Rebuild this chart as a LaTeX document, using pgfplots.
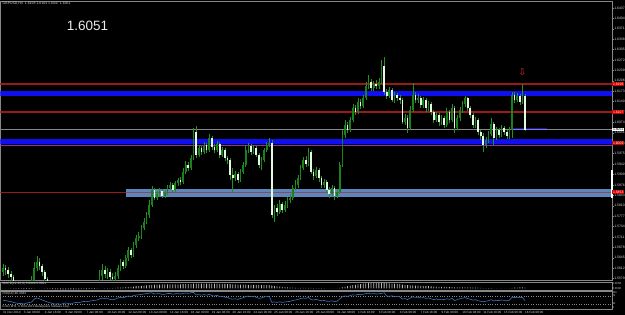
\documentclass[border=0pt]{standalone}
\usepackage{pgfplots}
\pgfplotsset{compat=1.18}
\usepackage{pgfplotstable}
\usepackage{fontspec}
\setmainfont{Liberation Sans}
\newfontfamily\arrowfont{DejaVu Sans}
\definecolor{bull}{RGB}{25,130,25}
\definecolor{wick}{RGB}{35,145,35}
\definecolor{bear}{RGB}{225,250,225}
\definecolor{lvred}{RGB}{155,25,25}
\definecolor{lvblue}{RGB}{15,15,240}
\definecolor{lvpurple}{RGB}{140,40,210}
\definecolor{lband}{RGB}{105,145,200}
\definecolor{rsiblue}{RGB}{60,115,190}
\definecolor{frm}{RGB}{135,135,135}
\definecolor{lbl}{RGB}{215,215,215}
\definecolor{sigred}{RGB}{225,40,40}
\newcommand{\fs}[1]{\fontsize{#1}{#1}\selectfont}

\pgfplotstableread{
i o h l c m r
0 1.5600 1.5625 1.5587 1.5612 0.0002 48
1 1.5612 1.5622 1.5590 1.5606 0.0001 47
2 1.5606 1.5616 1.5581 1.5593 0.0000 44
3 1.5593 1.5603 1.5571 1.5584 -0.0001 42
4 1.5584 1.5590 1.5549 1.5562 -0.0002 38
5 1.5562 1.5568 1.5530 1.5543 -0.0003 35
6 1.5543 1.5549 1.5511 1.5527 -0.0004 32
7 1.5527 1.5546 1.5517 1.5536 -0.0004 33
8 1.5536 1.5549 1.5505 1.5524 -0.0005 30
9 1.5524 1.5555 1.5514 1.5543 -0.0004 34
10 1.5543 1.5565 1.5533 1.5555 -0.0004 37
11 1.5555 1.5587 1.5546 1.5574 -0.0003 40
12 1.5574 1.5631 1.5565 1.5612 -0.0001 55
13 1.5612 1.5650 1.5603 1.5631 0.0001 60
14 1.5631 1.5644 1.5606 1.5619 0.0001 56
15 1.5619 1.5625 1.5587 1.5600 0.0000 50
16 1.5600 1.5606 1.5565 1.5578 -0.0001 45
17 1.5578 1.5584 1.5543 1.5555 -0.0002 40
18 1.5555 1.5562 1.5524 1.5536 -0.0004 36
19 1.5536 1.5543 1.5505 1.5517 -0.0005 33
20 1.5517 1.5524 1.5479 1.5495 -0.0007 29
21 1.5495 1.5521 1.5486 1.5511 -0.0008 32
22 1.5511 1.5517 1.5482 1.5498 -0.0009 28
23 1.5498 1.5505 1.5467 1.5479 -0.0010 32
24 1.5479 1.5501 1.5470 1.5492 -0.0010 35
25 1.5492 1.5521 1.5482 1.5511 -0.0009 33
26 1.5511 1.5517 1.5489 1.5501 -0.0009 30
27 1.5501 1.5511 1.5473 1.5486 -0.0008 35
28 1.5486 1.5508 1.5476 1.5498 -0.0008 38
29 1.5498 1.5524 1.5489 1.5517 -0.0007 36
30 1.5517 1.5527 1.5495 1.5508 -0.0006 40
31 1.5508 1.5533 1.5498 1.5524 -0.0006 43
32 1.5524 1.5543 1.5511 1.5536 -0.0005 41
33 1.5536 1.5546 1.5517 1.5527 -0.0004 44
34 1.5527 1.5552 1.5517 1.5543 -0.0004 46
35 1.5543 1.5559 1.5533 1.5552 -0.0003 48
36 1.5552 1.5571 1.5543 1.5562 -0.0002 50
37 1.5562 1.5606 1.5549 1.5587 0.0000 55
38 1.5587 1.5625 1.5574 1.5606 0.0002 60
39 1.5606 1.5619 1.5581 1.5593 0.0003 56
40 1.5593 1.5612 1.5578 1.5600 0.0004 57
41 1.5600 1.5609 1.5574 1.5584 0.0004 53
42 1.5584 1.5597 1.5565 1.5578 0.0004 51
43 1.5578 1.5600 1.5568 1.5587 0.0005 54
44 1.5587 1.5622 1.5578 1.5612 0.0007 60
45 1.5612 1.5641 1.5603 1.5631 0.0009 64
46 1.5631 1.5638 1.5609 1.5619 0.0010 61
47 1.5619 1.5654 1.5612 1.5644 0.0012 66
48 1.5644 1.5679 1.5635 1.5670 0.0015 70
49 1.5670 1.5676 1.5644 1.5654 0.0016 67
50 1.5654 1.5695 1.5647 1.5685 0.0018 72
51 1.5685 1.5717 1.5676 1.5708 0.0021 75
52 1.5708 1.5727 1.5698 1.5714 0.0023 76
53 1.5714 1.5749 1.5704 1.5739 0.0025 78
54 1.5739 1.5771 1.5733 1.5758 0.0027 80
55 1.5758 1.5790 1.5752 1.5780 0.0029 82
56 1.5780 1.5828 1.5771 1.5812 0.0031 84
57 1.5812 1.5872 1.5806 1.5860 0.0034 86
58 1.5860 1.5866 1.5828 1.5834 0.0035 80
59 1.5834 1.5857 1.5828 1.5847 0.0036 81
60 1.5847 1.5866 1.5838 1.5857 0.0036 82
61 1.5857 1.5863 1.5834 1.5841 0.0037 78
62 1.5841 1.5860 1.5834 1.5850 0.0037 79
63 1.5850 1.5876 1.5844 1.5866 0.0038 82
64 1.5866 1.5885 1.5860 1.5876 0.0038 83
65 1.5876 1.5882 1.5853 1.5860 0.0038 79
66 1.5860 1.5888 1.5853 1.5882 0.0038 81
67 1.5882 1.5898 1.5872 1.5891 0.0039 82
68 1.5891 1.5901 1.5876 1.5885 0.0039 80
69 1.5885 1.5929 1.5879 1.5917 0.0040 83
70 1.5917 1.5952 1.5910 1.5939 0.0041 85
71 1.5939 1.5948 1.5920 1.5929 0.0041 83
72 1.5929 1.5971 1.5923 1.5961 0.0042 86
73 1.5961 1.6056 1.5955 1.6044 0.0045 88
74 1.6044 1.6063 1.5961 1.5971 0.0046 75
75 1.5971 1.6002 1.5964 1.5993 0.0046 77
76 1.5993 1.5999 1.5971 1.5980 0.0046 74
77 1.5980 1.6012 1.5974 1.6002 0.0046 77
78 1.6002 1.6009 1.5977 1.5987 0.0045 74
79 1.5987 1.6037 1.5980 1.6025 0.0045 79
80 1.6025 1.6031 1.5987 1.5996 0.0045 72
81 1.5996 1.6006 1.5977 1.5987 0.0044 70
82 1.5987 1.6015 1.5980 1.6006 0.0044 74
83 1.6006 1.6012 1.5961 1.5971 0.0043 66
84 1.5971 1.5996 1.5964 1.5987 0.0043 68
85 1.5987 1.5993 1.5952 1.5961 0.0042 64
86 1.5961 1.5967 1.5942 1.5955 0.0041 63
87 1.5955 1.5961 1.5891 1.5907 0.0040 56
88 1.5907 1.5929 1.5853 1.5898 0.0038 54
89 1.5898 1.5920 1.5888 1.5910 0.0037 56
90 1.5910 1.5917 1.5882 1.5891 0.0036 53
91 1.5891 1.5926 1.5885 1.5917 0.0035 58
92 1.5917 1.5948 1.5910 1.5939 0.0035 61
93 1.5939 1.6002 1.5933 1.5987 0.0035 68
94 1.5987 1.6009 1.5977 1.5999 0.0034 69
95 1.5999 1.6006 1.5971 1.5980 0.0034 66
96 1.5980 1.6002 1.5974 1.5993 0.0034 68
97 1.5993 1.5999 1.5964 1.5971 0.0033 64
98 1.5971 1.5977 1.5929 1.5939 0.0033 58
99 1.5939 1.5964 1.5923 1.5955 0.0032 60
100 1.5955 1.5993 1.5948 1.5987 0.0032 65
101 1.5987 1.6012 1.5980 1.6002 0.0032 67
102 1.6002 1.6025 1.5996 1.6009 0.0032 68
103 1.6009 1.6018 1.5771 1.5780 0.0027 38
104 1.5780 1.5812 1.5758 1.5803 0.0023 40
105 1.5803 1.5815 1.5777 1.5790 0.0020 38
106 1.5790 1.5828 1.5784 1.5815 0.0017 41
107 1.5815 1.5822 1.5787 1.5796 0.0014 38
108 1.5796 1.5825 1.5790 1.5812 0.0012 40
109 1.5812 1.5838 1.5803 1.5828 0.0010 42
110 1.5828 1.5847 1.5818 1.5834 0.0008 43
111 1.5834 1.5876 1.5828 1.5866 0.0007 48
112 1.5866 1.5891 1.5860 1.5876 0.0006 50
113 1.5876 1.5907 1.5866 1.5898 0.0005 53
114 1.5898 1.5939 1.5891 1.5929 0.0005 57
115 1.5929 1.5964 1.5923 1.5955 0.0005 60
116 1.5955 1.5967 1.5933 1.5942 0.0005 58
117 1.5942 1.5993 1.5936 1.5980 0.0005 63
118 1.5980 1.5987 1.5910 1.5917 0.0005 52
119 1.5917 1.5926 1.5891 1.5904 0.0004 50
120 1.5904 1.5933 1.5898 1.5923 0.0004 53
121 1.5923 1.5929 1.5885 1.5898 0.0004 49
122 1.5898 1.5904 1.5866 1.5876 0.0003 46
123 1.5876 1.5895 1.5866 1.5885 0.0003 48
124 1.5885 1.5891 1.5850 1.5860 0.0002 44
125 1.5860 1.5869 1.5834 1.5847 0.0002 43
126 1.5847 1.5876 1.5841 1.5866 0.0002 46
127 1.5866 1.5872 1.5828 1.5841 0.0002 42
128 1.5841 1.5863 1.5834 1.5853 0.0002 44
129 1.5853 1.5948 1.5847 1.5939 0.0005 56
130 1.5939 1.6050 1.5933 1.6034 0.0010 66
131 1.6034 1.6082 1.6025 1.6066 0.0016 70
132 1.6066 1.6075 1.6040 1.6050 0.0021 68
133 1.6050 1.6091 1.6044 1.6082 0.0026 72
134 1.6082 1.6132 1.6075 1.6120 0.0030 76
135 1.6120 1.6129 1.6097 1.6107 0.0034 74
136 1.6107 1.6151 1.6101 1.6139 0.0038 78
137 1.6139 1.6148 1.6116 1.6126 0.0041 76
138 1.6126 1.6161 1.6120 1.6151 0.0044 79
139 1.6151 1.6202 1.6145 1.6189 0.0047 82
140 1.6189 1.6224 1.6180 1.6202 0.0049 84
141 1.6202 1.6212 1.6174 1.6183 0.0050 80
142 1.6183 1.6205 1.6174 1.6196 0.0051 82
143 1.6196 1.6208 1.6180 1.6189 0.0051 80
144 1.6189 1.6215 1.6180 1.6202 0.0052 81
145 1.6202 1.6272 1.6196 1.6253 0.0052 83
146 1.6253 1.6281 1.6161 1.6170 0.0053 86
147 1.6170 1.6180 1.6148 1.6158 0.0050 70
148 1.6158 1.6186 1.6151 1.6177 0.0048 68
149 1.6177 1.6183 1.6139 1.6145 0.0046 71
150 1.6145 1.6170 1.6135 1.6161 0.0044 66
151 1.6161 1.6167 1.6142 1.6151 0.0042 68
152 1.6151 1.6161 1.6132 1.6145 0.0040 66
153 1.6145 1.6151 1.6069 1.6075 0.0036 55
154 1.6075 1.6101 1.6066 1.6088 0.0033 57
155 1.6088 1.6097 1.6040 1.6056 0.0030 52
156 1.6056 1.6126 1.6050 1.6113 0.0029 60
157 1.6113 1.6199 1.6107 1.6161 0.0028 66
158 1.6161 1.6170 1.6135 1.6145 0.0027 63
159 1.6145 1.6164 1.6135 1.6151 0.0026 64
160 1.6151 1.6158 1.6120 1.6129 0.0024 60
161 1.6129 1.6155 1.6120 1.6145 0.0023 62
162 1.6145 1.6151 1.6107 1.6120 0.0022 58
163 1.6120 1.6142 1.6110 1.6132 0.0021 60
164 1.6132 1.6139 1.6097 1.6107 0.0019 56
165 1.6107 1.6113 1.6072 1.6082 0.0018 52
166 1.6082 1.6107 1.6075 1.6097 0.0017 55
167 1.6097 1.6104 1.6063 1.6075 0.0016 51
168 1.6075 1.6097 1.6066 1.6088 0.0015 54
169 1.6088 1.6094 1.6056 1.6066 0.0014 52
170 1.6066 1.6120 1.6059 1.6107 0.0013 56
171 1.6107 1.6113 1.6072 1.6082 0.0012 53
172 1.6082 1.6132 1.6075 1.6120 0.0012 58
173 1.6120 1.6126 1.6040 1.6056 0.0011 47
174 1.6056 1.6097 1.6050 1.6088 0.0011 52
175 1.6088 1.6123 1.6078 1.6113 0.0011 56
176 1.6113 1.6142 1.6104 1.6132 0.0011 59
177 1.6132 1.6158 1.6123 1.6151 0.0011 62
178 1.6151 1.6155 1.6110 1.6120 0.0010 57
179 1.6120 1.6126 1.6088 1.6097 0.0010 54
180 1.6097 1.6104 1.6056 1.6066 0.0009 49
181 1.6066 1.6091 1.6056 1.6082 0.0008 52
182 1.6082 1.6088 1.6034 1.6044 0.0007 46
183 1.6044 1.6050 1.6018 1.6031 0.0006 44
184 1.6031 1.6040 1.5980 1.6002 0.0004 41
185 1.6002 1.6028 1.5993 1.6018 0.0003 44
186 1.6018 1.6047 1.6009 1.6037 0.0003 46
187 1.6037 1.6088 1.6031 1.6069 0.0003 52
188 1.6069 1.6075 1.6002 1.6025 0.0002 45
189 1.6025 1.6059 1.6018 1.6050 0.0002 48
190 1.6050 1.6056 1.6025 1.6034 0.0002 47
191 1.6034 1.6066 1.6028 1.6056 0.0002 50
192 1.6056 1.6063 1.6034 1.6044 0.0002 48
193 1.6044 1.6050 1.6021 1.6031 0.0002 46
194 1.6031 1.6059 1.6021 1.6050 0.0002 49
195 1.6050 1.6170 1.6025 1.6161 0.0006 64
196 1.6161 1.6170 1.6135 1.6145 0.0008 62
197 1.6145 1.6167 1.6139 1.6158 0.0009 64
198 1.6158 1.6164 1.6129 1.6139 0.0010 61
199 1.6139 1.6196 1.6132 1.6158 0.0011 63
200 1.6158 1.6164 1.6047 1.6051 0.0009 46
}\candles

\pgfplotsset{mt/.style={scale only axis, width=611.5pt, xmin=-0.96, xmax=233.3,
  axis line style={frm, line width=0.4pt}, clip mode=individual,
  tick align=outside, major tick length=1.5pt, tick style={frm, line width=0.3pt}},
  candle/.style={draw=none, mark=none, forget plot,
  error bars/.cd, y dir=plus, y explicit, error mark=none}}

\begin{document}
\begin{tikzpicture}
\fill[black] (0,0) rectangle (625pt,315pt);

% ---------------- main price panel ----------------
\begin{axis}[mt, at={(0.5pt,34.5pt)}, anchor=south west, height=279.5pt,
  ymin=1.55728, ymax=1.64588, xtick=\empty,
  ytick={1.5579,1.5612,1.5645,1.5678,1.5711,1.5744,1.5777,1.5810,1.5843,1.5876,1.5909,1.5942,1.5975,1.6008,1.6041,1.6074,1.6107,1.6140,1.6173,1.6206,1.6239,1.6272,1.6305,1.6338,1.6371,1.6404,1.6437},
  yticklabels={1.5579,1.5612,1.5645,1.5678,1.5711,1.5744,1.5777,1.5810,1.5843,1.5876,1.5909,1.5942,1.5975,1.6008,1.6041,1.6074,1.6107,1.6140,1.6173,1.6206,1.6239,1.6272,1.6305,1.6338,1.6371,1.6404,1.6437},
  ytick pos=right, yticklabel pos=right,
  yticklabel style={font=\fs{3.4}, text=lbl, inner sep=0.6pt}]
% horizontal levels
\addplot[lband, line width=8pt, opacity=0.92] coordinates {(47.1,1.5850) (233.3,1.5850)};
\addplot[lvred, line width=1pt] coordinates {(-0.96,1.5853) (47.1,1.5853)};
\addplot[lvred, line width=0.6pt, opacity=0.5] coordinates {(47.1,1.5853) (233.3,1.5853)};
\addplot[lvred, line width=1.3pt] coordinates {(-0.96,1.6196) (233.3,1.6196)};
\addplot[lvblue, line width=4.5pt] coordinates {(-0.96,1.6166) (233.3,1.6166)};
\addplot[lvred, line width=1.3pt] coordinates {(-0.96,1.6107) (233.3,1.6107)};
\addplot[frm, line width=0.5pt] coordinates {(-0.96,1.6051) (233.3,1.6051)};
\addplot[lvblue, line width=5.5pt] coordinates {(-0.96,1.6013) (233.3,1.6013)};
\addplot[lvpurple, line width=0.9pt] coordinates {(-0.96,1.6001) (233.3,1.6001)};
\addplot[lvblue, line width=0.7pt] coordinates {(195,1.6055) (208.4,1.6055)};
% candles: wicks
\addplot[candle, error bar style={draw=wick, line width=0.55pt}]
  table[x=i, y=l, y error plus expr={\thisrow{h}-\thisrow{l}}] {\candles};
% bull bodies
\addplot[candle, error bar style={draw=bull, line width=1.7pt}]
  table[x=i, y expr={\thisrow{c}>=\thisrow{o} ? \thisrow{o} : nan},
        y error plus expr={\thisrow{c}-\thisrow{o}}] {\candles};
% bear bodies
\addplot[candle, error bar style={draw=bear, line width=1.7pt}]
  table[x=i, y expr={\thisrow{c}<\thisrow{o} ? \thisrow{c} : nan},
        y error plus expr={\thisrow{o}-\thisrow{c}}] {\candles};
% arrow signal
\addplot[draw=none, mark=none, forget plot,
  nodes near coords={\arrowfont ⇩},
  every node near coord/.style={text=sigred, font=\fs{9.5}, anchor=center, inner sep=0pt}]
  coordinates {(199,1.6233)};
% price tags on the scale
\draw[white, line width=1.2pt] (axis cs:233.3,1.5923) -- (axis cs:233.3,1.5834);
\node[anchor=west, fill=red!80!black, text=white, font=\fs{3.4}, inner sep=0.5pt, minimum width=12pt] at (axis cs:233.3,1.6196) {1.6196};
\node[anchor=west, fill=red!80!black, text=white, font=\fs{3.4}, inner sep=0.5pt, minimum width=12pt] at (axis cs:233.3,1.6107) {1.6107};
\node[anchor=west, fill=white, text=black, font=\fs{3.4}, inner sep=0.5pt, minimum width=12pt] at (axis cs:233.3,1.6051) {1.6051};
\node[anchor=west, fill=red!80!black, text=white, font=\fs{3.4}, inner sep=0.5pt, minimum width=12pt] at (axis cs:233.3,1.6009) {1.6009};
\node[anchor=west, fill=red!80!black, text=white, font=\fs{3.4}, inner sep=0.5pt, minimum width=12pt] at (axis cs:233.3,1.5853) {1.5853};
\end{axis}

% ---------------- MACD panel ----------------
\begin{axis}[mt, at={(0.5pt,25pt)}, anchor=south west, height=8pt,
  ymin=-0.00138, ymax=0.0060, xtick=\empty, ytick=\empty]
\addplot[ybar, bar width=0.8pt, fill=white!72!black, draw=none] table[x=i, y=m] {\candles};
\node[anchor=west, font=\fs{2.8}, text=lbl, inner sep=0.4pt] at (axis cs:233.3,0.0050) {0.0058};
\node[anchor=west, font=\fs{2.8}, text=lbl, inner sep=0.4pt] at (axis cs:233.3,0.0000) {0.0000};
\end{axis}

% ---------------- RSI panel ----------------
\begin{axis}[mt, at={(0.5pt,6pt)}, anchor=south west, height=17.5pt,
  ymin=5, ymax=92.5, ytick=\empty,
  xtick={0,8,16,24,32,40,48,56,64,72,80,88,96,104,112,120,128,136,144,152,160,168,176,184,192,200},
  xticklabels={31 Dec 2010,3 Jan 08:00,4 Jan 16:00,6 Jan 00:00,7 Jan 08:00,10 Jan 16:00,12 Jan 00:00,13 Jan 08:00,14 Jan 16:00,18 Jan 00:00,19 Jan 08:00,20 Jan 16:00,24 Jan 00:00,25 Jan 08:00,26 Jan 16:00,28 Jan 00:00,31 Jan 08:00,1 Feb 16:00,3 Feb 00:00,4 Feb 08:00,7 Feb 16:00,9 Feb 00:00,10 Feb 08:00,11 Feb 16:00,15 Feb 00:00,16 Feb 08:00},
  xtick pos=bottom,
  xticklabel style={anchor=north west, font=\fs{3.1}, text=lbl, inner sep=0.3pt, xshift=-0.5pt}]
\addplot[frm, dotted, line width=0.4pt] coordinates {(-0.96,70) (233.3,70)};
\addplot[frm, dotted, line width=0.4pt] coordinates {(-0.96,30) (233.3,30)};
\addplot[rsiblue, line width=0.6pt] table[x=i, y=r] {\candles};
\node[anchor=west, font=\fs{2.6}, text=lbl, inner sep=0.3pt] at (axis cs:233.3,88) {100};
\node[anchor=west, font=\fs{2.6}, text=lbl, inner sep=0.3pt] at (axis cs:233.3,70) {70};
\node[anchor=west, font=\fs{2.6}, text=lbl, inner sep=0.3pt] at (axis cs:233.3,30) {30};
\node[anchor=west, font=\fs{2.6}, text=lbl, inner sep=0.3pt] at (axis cs:233.3,10) {0};
\end{axis}

% ---------------- texts ----------------
\node[anchor=north west, text=lbl, font=\fs{3.5}, inner sep=0pt] at (2.5pt,313pt) {GBPUSD,H4\ \ 1.6158 1.6164 1.6047 1.6051};
\node[text=white!92!black, font=\fs{13.5}, inner sep=0pt] at (87.5pt,289.5pt) {1.6051};
\node[anchor=north west, text=lbl, font=\fs{3.2}, inner sep=0pt] at (2.5pt,32.6pt) {MACD(12,26,9) 0.0009 0.0021};
\node[anchor=north west, text=lbl, font=\fs{3.2}, inner sep=0pt] at (2.5pt,23pt) {RSI(14) 46.3583};
\node[anchor=west, text=lbl, font=\fs{2.8}, inner sep=0pt] at (2.5pt,8.5pt) {FxPro MT4, © 2001-2010 MetaQuotes Software Corp.};

\pgfresetboundingbox
\useasboundingbox (0,0) rectangle (625pt,315pt);
\end{tikzpicture}
\end{document}
